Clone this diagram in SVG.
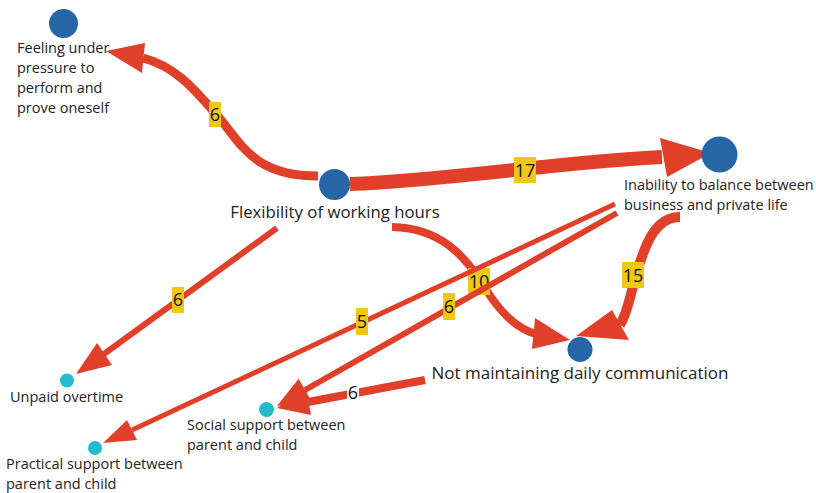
<svg xmlns="http://www.w3.org/2000/svg" width="816" height="493" viewBox="0 0 816 493">
<style>
.e{fill:none;stroke:#E04029;stroke-linecap:butt}
.ah{fill:#E04029}
.lb{fill:#F0C814}
.lt{font-family:"Open Sans","Noto Sans",sans-serif;font-size:18px;fill:#111;text-anchor:middle}
.big{fill:#2766A6}
.small{fill:#22BCCD}
.nt{font-family:"Open Sans","Noto Sans",sans-serif;fill:#222}
.s{font-size:14.5px}
.m{font-size:16.8px}
.l{font-size:17px}
</style>
<rect width="816" height="493" fill="#fff"/>
<g id="connectors">
  <g id="e1">
    <path class="e" stroke-width="9" d="M318,176 C250,176 240,140 215,113 C195,90 175,66 143,58"/>
    <polygon class="ah" points="106,51 145,43 142,73"/>
    <rect class="lb" x="209" y="102" width="12" height="25"/>
    <text class="lt" x="215" y="121">6</text>
  </g>
  <g id="e2">
    <path class="e" stroke-width="14" d="M350,184 C450,180 560,162 662,157"/>
    <polygon class="ah" points="711,153 660,138 667,177"/>
    <rect class="lb" x="514" y="157" width="22" height="26"/>
    <text class="lt" x="525" y="177">17</text>
  </g>
  <g id="e3">
    <path class="e" stroke-width="6" d="M277,228 L104,354"/>
    <polygon class="ah" points="76,374 97,343 112,365"/>
    <rect class="lb" x="172" y="287" width="12" height="26"/>
    <text class="lt" x="178" y="306">6</text>
  </g>
  <g id="e4">
    <path class="e" stroke-width="8" d="M392,227 C440,228 465,255 485,288 C500,312 515,327 535,334"/>
    <polygon class="ah" points="570,340 535,318 532,349"/>
    <rect class="lb" x="468" y="268" width="22" height="27"/>
    <text class="lt" x="479" y="288">10</text>
  </g>
  <g id="e5">
    <path class="e" stroke-width="10" d="M680,217 C655,217 645,245 637,272 C630,295 628,312 620,325"/>
    <polygon class="ah" points="576,336 612,310 629,340"/>
    <rect class="lb" x="622" y="262" width="22" height="26"/>
    <text class="lt" x="633" y="282">15</text>
  </g>
  <g id="e6">
    <path class="e" stroke-width="5" d="M615,204 L132,430"/>
    <polygon class="ah" points="103,443 127,420 137,440"/>
    <rect class="lb" x="356" y="308" width="12" height="27"/>
    <text class="lt" x="362" y="328">5</text>
  </g>
  <g id="e7">
    <path class="e" stroke-width="6" d="M617,213 L305,390"/>
    <polygon class="ah" points="277,406 298.6,378.7 311.4,401.3"/>
    <rect class="lb" x="443" y="293" width="12" height="27"/>
    <text class="lt" x="449" y="313">6</text>
  </g>
  <g id="e8">
    <path class="e" stroke-width="8" d="M425,380 L308,402"/>
    <polygon class="ah" points="277,408 306,389 311,415"/>
    <rect fill="#fff" x="347" y="381" width="12" height="24"/>
    <text class="lt" x="353" y="399">6</text>
  </g>
</g>
<g id="n-feeling">
  <circle class="big" cx="63.5" cy="23.5" r="14.5"/>
  <text class="nt s" x="17"><tspan x="17" y="53">Feeling under</tspan><tspan x="17" y="73">pressure to</tspan><tspan x="17" y="93">perform and</tspan><tspan x="17" y="113">prove oneself</tspan></text>
</g>
<g id="n-flex">
  <circle class="big" cx="334.5" cy="184.5" r="15.5"/>
  <text class="nt m" x="335" y="218" text-anchor="middle">Flexibility of working hours</text>
</g>
<g id="n-inability">
  <circle class="big" cx="719.5" cy="154.5" r="18"/>
  <text class="nt s"><tspan x="624" y="190">Inability to balance between</tspan><tspan x="624" y="210">business and private life</tspan></text>
</g>
<g id="n-notmaint">
  <circle class="big" cx="580" cy="349.5" r="12.5"/>
  <text class="nt l" x="580" y="379" text-anchor="middle">Not maintaining daily communication</text>
</g>
<g id="n-unpaid">
  <circle class="small" cx="67" cy="380.5" r="7"/>
  <text class="nt s" x="10" y="402">Unpaid overtime</text>
</g>
<g id="n-social">
  <circle class="small" cx="266.5" cy="409.5" r="7.5"/>
  <text class="nt s"><tspan x="187" y="430">Social support between</tspan><tspan x="187" y="450">parent and child</tspan></text>
</g>
<g id="n-practical">
  <circle class="small" cx="95" cy="448" r="7"/>
  <text class="nt s"><tspan x="6" y="469">Practical support between</tspan><tspan x="6" y="489">parent and child</tspan></text>
</g>
</svg>
